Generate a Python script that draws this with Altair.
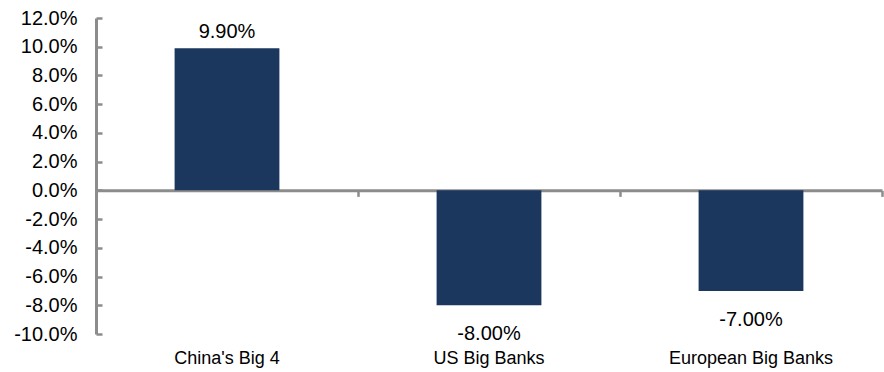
import altair as alt
import pandas as pd

categories = ["China's Big 4", "US Big Banks", "European Big Banks"]
values = [0.099, -0.080, -0.070]
y_ticks = [-0.10, -0.08, -0.06, -0.04, -0.02, 0.0, 0.02, 0.04, 0.06, 0.08, 0.10, 0.12]

df = pd.DataFrame({"cat": categories, "value": values})

W, H = 786, 316
YMIN, YMAX = -0.10, 0.12
zero_from_top = H * YMAX / (YMAX - YMIN)
zero_offset = -(H - zero_from_top)
STEP = W / 3.0

FONT = "Liberation Sans"
GRAY = "#8c8c8c"
NAVY = "#1c375e"

xscale = alt.Scale(paddingInner=0.6, paddingOuter=0.3)
yscale = alt.Scale(domain=[YMIN, YMAX], nice=False)

base = alt.Chart(df)

bars = base.mark_bar(color=NAVY).encode(
    x=alt.X("cat:N", sort=categories, scale=xscale, title=None,
            axis=alt.Axis(domain=False, ticks=False, labelAngle=0, labelPadding=15,
                          labelFontSize=18, labelFont=FONT, labelColor="#000000")),
    y=alt.Y("value:Q", scale=yscale, title=None,
            axis=alt.Axis(values=y_ticks, tickCount=len(y_ticks) + 2, domain=True,
                          domainColor=GRAY, domainWidth=3,
                          ticks=False, tickSize=0, labelPadding=19, grid=False,
                          labelOverlap=False,
                          labelExpr="replace(format(datum.value, '.1%'), '\u2212', '-')",
                          labelFontSize=20, labelFont=FONT, labelColor="#000000")),
)

frame = base.mark_bar(opacity=0).encode(
    x=alt.X("cat:N", sort=categories, scale=xscale, title=None,
            axis=alt.Axis(orient="bottom", offset=zero_offset, domain=True, domainColor=GRAY,
                          domainWidth=3, ticks=True, tickOffset=STEP / 2, tickSize=6,
                          tickColor=GRAY, tickWidth=2.5, labels=False)),
    y=alt.Y("value:Q", scale=yscale, title=None,
            axis=alt.Axis(orient="right", offset=-W, values=y_ticks,
                          tickCount=len(y_ticks) + 2, domain=False,
                          ticks=True, tickSize=6, tickColor=GRAY, tickWidth=2.5,
                          labels=False, grid=False)),
)

pos_text = base.transform_filter("datum.value >= 0").transform_calculate(
    lab="replace(format(datum.value, '.2%'), '\u2212', '-')"
).mark_text(baseline="bottom", dy=-6, fontSize=20, font=FONT, color="#000000").encode(
    x=alt.X("cat:N", sort=categories, scale=xscale),
    y=alt.Y("value:Q", scale=yscale),
    text="lab:N",
)

neg_text = base.transform_filter("datum.value < 0").transform_calculate(
    lab="replace(format(datum.value, '.2%'), '\u2212', '-')"
).mark_text(baseline="top", dy=19, fontSize=20, font=FONT, color="#000000").encode(
    x=alt.X("cat:N", sort=categories, scale=xscale),
    y=alt.Y("value:Q", scale=yscale),
    text="lab:N",
)

main = alt.layer(bars, pos_text, neg_text)

chart = alt.layer(main, frame).resolve_axis(x="independent", y="independent").properties(
    width=W, height=H,
    autosize=alt.AutoSizeParams(type="none"),
    padding={"left": 96, "top": 18, "right": 2, "bottom": 38},
    background="#ffffff",
).configure_view(stroke=None)

chart.save("out.html", embed_options={"renderer": "svg", "actions": False})
